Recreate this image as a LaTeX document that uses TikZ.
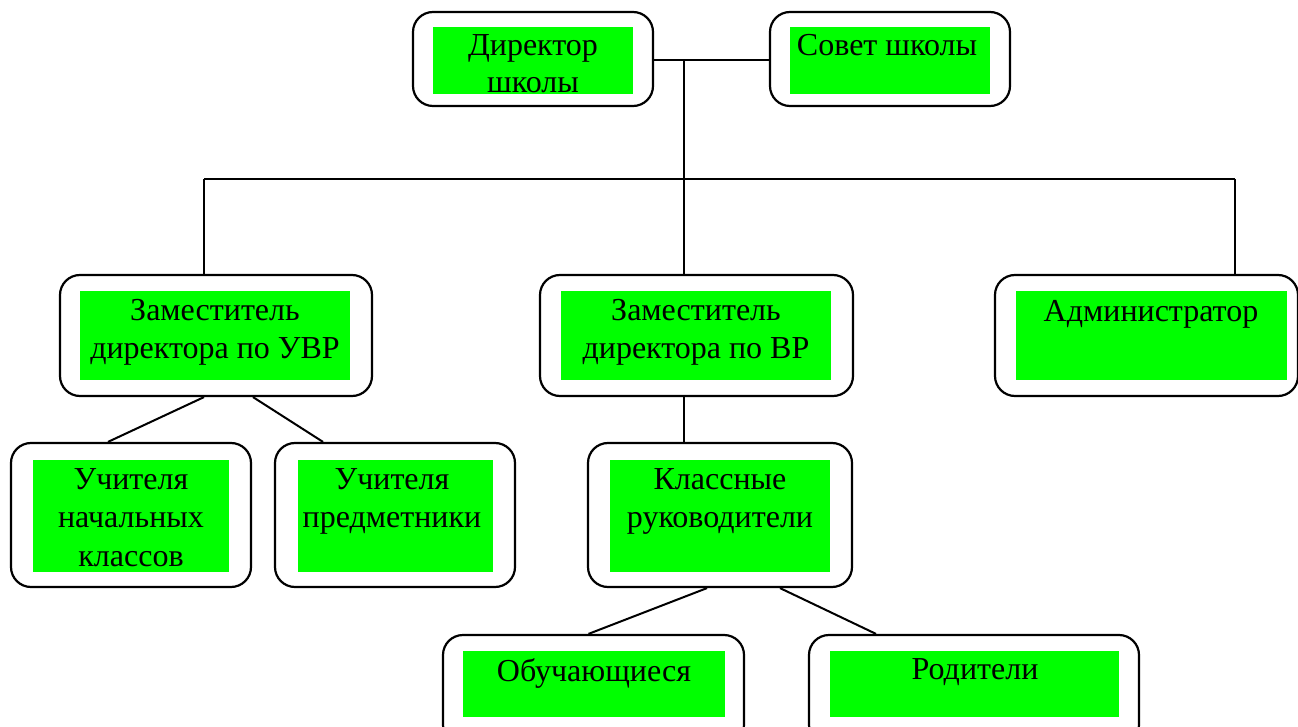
\documentclass[tikz,border=0pt]{standalone}
\usepackage{fontspec}
\setmainfont{Liberation Serif}
\definecolor{boxgreen}{RGB}{0,255,0}
\begin{document}
\begin{tikzpicture}[x=1pt,y=-1pt,
  outerbox/.style={draw=black, line width=2.2pt, rounded corners=20pt, fill=white, inner sep=0pt},
  innerbox/.style={fill=boxgreen, inner sep=0pt},
  txt/.style={font=\fontsize{32}{38.5}\selectfont, align=center, inner sep=0pt, anchor=north},
  link/.style={draw=black, line width=2pt}]
\useasboundingbox (0,0) rectangle (1298,727);
% connectors
\coordinate (hub) at (684,60);
\coordinate (busL) at (204,179);
\coordinate (busM) at (684,179);
\coordinate (busR) at (1235,179);
% boxes
\node[outerbox, minimum width=240pt, minimum height=94pt] (dir) at (533,59) {};
\node[innerbox, minimum width=200pt, minimum height=67pt] (dirg) at (533,60.5) {};
\node[txt, font=\fontsize{32}{37}\selectfont] (dirt) at (533,34) {Директор\\школы};

\node[outerbox, minimum width=240pt, minimum height=94pt] (sov) at (890,59) {};
\node[innerbox, minimum width=200pt, minimum height=67pt] (sovg) at (890,60.5) {};
\node[txt] (sovt) at (887,34) {Совет школы};

\node[outerbox, minimum width=312pt, minimum height=121pt] (uvr) at (216,335.5) {};
\node[innerbox, minimum width=270pt, minimum height=89pt] (uvrg) at (215,335.5) {};
\node[txt] (uvrt) at (215,299) {Заместитель\\директора по УВР};

\node[outerbox, minimum width=313pt, minimum height=121pt] (vr) at (696.5,335.5) {};
\node[innerbox, minimum width=270pt, minimum height=89pt] (vrg) at (696,335.5) {};
\node[txt] (vrt) at (696,299) {Заместитель\\директора по ВР};

\node[outerbox, minimum width=303pt, minimum height=121pt] (adm) at (1146.5,335.5) {};
\node[innerbox, minimum width=271pt, minimum height=89pt] (admg) at (1151.5,335.5) {};
\node[txt] (admt) at (1151,300) {Администратор};

\node[outerbox, minimum width=240pt, minimum height=144pt] (nach) at (131,515) {};
\node[innerbox, minimum width=196pt, minimum height=112pt] (nachg) at (131,516) {};
\node[txt] (nacht) at (131,468) {Учителя\\начальных\\классов};

\node[outerbox, minimum width=240pt, minimum height=144pt] (pred) at (395,515) {};
\node[innerbox, minimum width=195pt, minimum height=112pt] (predg) at (395.5,516) {};
\node[txt] (predt) at (392,468) {Учителя\\предметники};

\node[outerbox, minimum width=264pt, minimum height=144pt] (kl) at (720,515) {};
\node[innerbox, minimum width=220pt, minimum height=112pt] (klg) at (720,516) {};
\node[txt] (klt) at (720,468) {Классные\\руководители};

\node[outerbox, minimum width=301pt, minimum height=110pt] (obu) at (593.5,690) {};
\node[innerbox, minimum width=262pt, minimum height=66pt] (obug) at (594,684) {};
\node[txt] (obut) at (594,658) {Обучающиеся};

\node[outerbox, minimum width=330pt, minimum height=110pt] (rod) at (974,690) {};
\node[innerbox, minimum width=289pt, minimum height=66pt] (rodg) at (974.5,684) {};
\node[txt] (rodt) at (975,658) {Родители};

% lines
\draw[link] (dir.east |- hub) -- (sov.west |- hub);
\draw[link] (hub) -- (busM) -- (vr.north -| busM);
\draw[link] (busL) -- (busR);
\draw[link] (busL) -- (uvr.north -| busL);
\draw[link] (busR) -- (adm.north -| busR);
\draw[link] ([xshift=-12pt]uvr.south) -- ([xshift=-23pt]nach.north);
\draw[link] ([xshift=37pt]uvr.south) -- ([xshift=-72pt]pred.north);
\draw[link] (vr.south -| busM) -- (kl.north -| busM);
\draw[link] ([xshift=-13pt]kl.south) -- ([xshift=-5pt]obu.north);
\draw[link] ([xshift=60pt]kl.south) -- ([xshift=-98pt]rod.north);
\end{tikzpicture}
\end{document}
